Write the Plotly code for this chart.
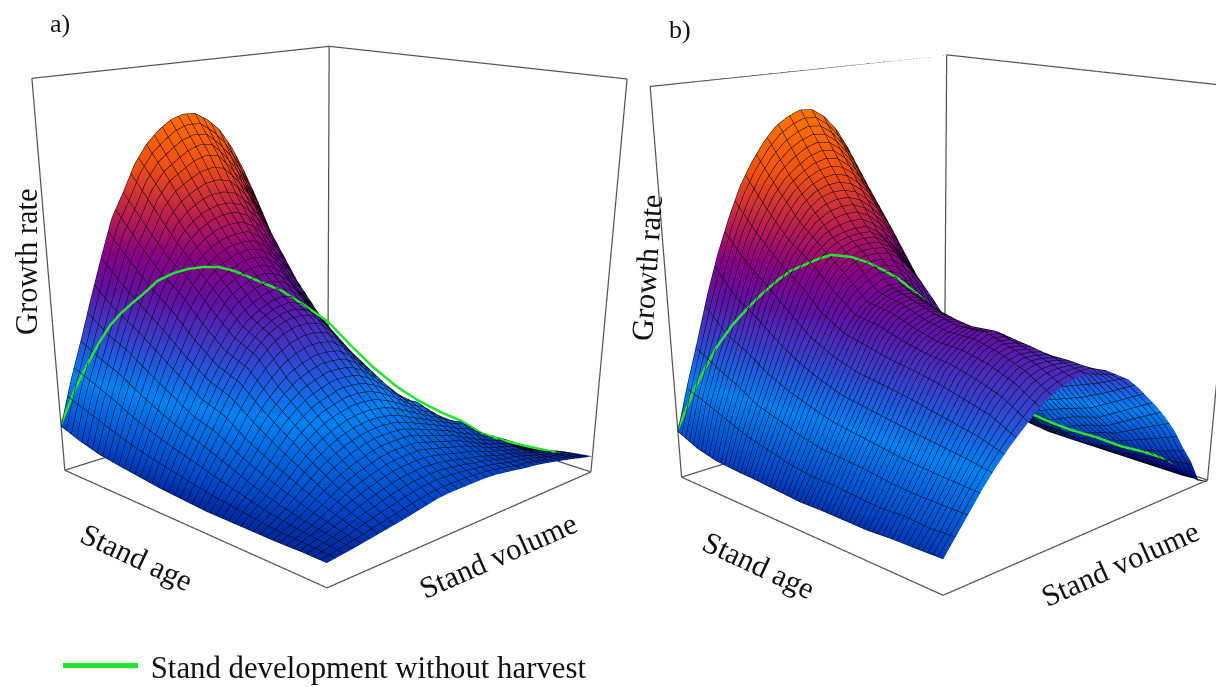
import plotly.graph_objects as go

FIG_W, FIG_H = 1216, 1195   # tall canvas: gives the weak perspective of the reference

age_levels = [0, 1/12, 2/12, 3/12, 4/12, 5/12, 6/12, 7/12, 8/12, 9/12, 10/12, 11/12, 1]
vol_levels = [0, 1/24, 2/24, 3/24, 4/24, 5/24, 6/24, 7/24, 8/24, 9/24, 10/24, 11/24, 12/24,
              13/24, 14/24, 15/24, 16/24, 17/24, 18/24, 19/24, 20/24, 21/24, 22/24, 23/24, 1]

growth_a = [
 [.125,.24,.34,.445,.545,.64,.70,.765,.81,.84,.862,.872,.87,.85,.82,.77,.705,.63,.55,.47,.40,.34,.28,.21,.15],
 [.105,.22,.31,.40,.49,.575,.63,.695,.735,.755,.775,.785,.78,.745,.70,.64,.56,.49,.42,.36,.30,.24,.19,.145,.10],
 [.09,.195,.285,.37,.445,.515,.565,.62,.65,.67,.68,.68,.67,.64,.60,.55,.48,.41,.34,.285,.24,.19,.145,.11,.08],
 [.082,.17,.25,.33,.40,.47,.52,.555,.58,.595,.60,.60,.58,.545,.505,.455,.39,.335,.28,.235,.19,.15,.115,.085,.055],
 [.075,.15,.22,.29,.35,.41,.46,.50,.52,.535,.54,.53,.505,.465,.425,.38,.32,.27,.225,.185,.15,.115,.08,.055,.03],
 [.068,.135,.195,.25,.31,.36,.405,.44,.46,.475,.48,.47,.445,.405,.365,.32,.27,.225,.185,.15,.12,.09,.06,.04,.018],
 [.064,.12,.175,.23,.285,.335,.375,.405,.425,.435,.435,.425,.395,.355,.315,.27,.225,.19,.155,.125,.10,.075,.05,.03,.012],
 [.06,.105,.15,.19,.24,.28,.31,.335,.35,.36,.36,.355,.335,.305,.275,.235,.19,.16,.135,.11,.09,.065,.045,.03,.012],
 [.06,.095,.125,.16,.20,.235,.26,.28,.29,.30,.30,.295,.28,.26,.235,.21,.195,.165,.13,.11,.09,.065,.045,.03,.014],
 [.06,.082,.105,.135,.165,.19,.21,.225,.235,.24,.24,.235,.225,.21,.195,.18,.165,.15,.14,.115,.09,.06,.045,.03,.016],
 [.06,.075,.09,.11,.13,.15,.165,.175,.185,.19,.19,.19,.18,.17,.16,.15,.135,.12,.105,.095,.085,.06,.045,.03,.02],
 [.062,.07,.08,.09,.105,.115,.125,.135,.142,.145,.147,.145,.14,.133,.125,.12,.11,.10,.095,.085,.075,.065,.057,.045,.035],
 [.062,.066,.07,.075,.08,.085,.09,.096,.102,.108,.11,.11,.11,.11,.108,.103,.098,.092,.088,.082,.075,.068,.06,.052,.045],
]

growth_b = [
 [.13,.25,.36,.475,.575,.66,.735,.79,.835,.87,.89,.903,.90,.878,.84,.785,.71,.63,.54,.44,.35,.27,.21,.15,.10],
 [.105,.23,.325,.41,.51,.60,.66,.715,.755,.78,.80,.81,.805,.78,.74,.69,.625,.55,.46,.38,.30,.23,.165,.11,.06],
 [.092,.205,.295,.38,.47,.545,.60,.645,.685,.71,.72,.72,.71,.685,.65,.60,.535,.47,.39,.32,.25,.18,.12,.07,.03],
 [.088,.18,.26,.34,.42,.495,.56,.60,.625,.635,.64,.64,.62,.59,.55,.50,.44,.38,.31,.25,.19,.13,.08,.04,.01],
 [.086,.165,.24,.31,.38,.44,.50,.55,.575,.59,.59,.585,.565,.525,.48,.43,.375,.31,.25,.19,.13,.09,.05,.025,.0],
 [.082,.15,.22,.29,.35,.41,.46,.495,.515,.53,.53,.51,.46,.415,.37,.32,.27,.225,.18,.135,.10,.065,.04,.015,-.005],
 [.078,.14,.205,.27,.33,.39,.45,.485,.505,.51,.50,.475,.445,.40,.355,.305,.25,.20,.155,.12,.085,.055,.03,.01,-.01],
 [.08,.14,.20,.26,.32,.38,.43,.465,.48,.49,.48,.46,.43,.38,.325,.27,.225,.18,.14,.105,.08,.05,.03,.01,-.01],
 [.08,.135,.195,.25,.31,.37,.42,.445,.465,.475,.47,.45,.42,.37,.31,.26,.215,.17,.135,.105,.08,.05,.03,.01,-.01],
 [.08,.13,.185,.24,.30,.355,.41,.44,.465,.48,.475,.455,.415,.375,.33,.275,.235,.20,.165,.13,.10,.065,.035,.01,-.01],
 [.085,.135,.18,.235,.29,.34,.39,.425,.45,.46,.455,.445,.42,.39,.35,.30,.26,.22,.185,.15,.12,.08,.05,.015,-.01],
 [.087,.13,.18,.23,.28,.325,.37,.40,.425,.435,.435,.43,.42,.395,.365,.33,.295,.26,.225,.19,.15,.10,.06,.02,-.01],
 [.09,.135,.18,.225,.265,.30,.33,.36,.385,.40,.41,.415,.415,.405,.385,.365,.335,.30,.265,.225,.18,.125,.075,.01,-.005],
]

path_a_t = [0,.034,.06,.083,.105,.125,.145,.167,.195,.225,.25,.277,.305,.333,.375,.417,.46,.5,.54,.583,.625,.667,.71,.75,.79,.833,.875,.917,.96]
path_a_z = [.13,.235,.30,.355,.40,.43,.455,.48,.515,.535,.545,.55,.55,.54,.515,.49,.45,.41,.35,.29,.24,.20,.168,.143,.108,.088,.073,.06,.043]
path_b_t = [0,.036,.06,.083,.115,.145,.167,.2,.225,.25,.275,.298,.333,.365,.393,.417,.456,.5,.54,.583,.625,.662,.7,.737,.785,.832,.875,.917,.966]
path_b_z = [.135,.245,.305,.36,.42,.465,.495,.535,.56,.575,.59,.60,.595,.58,.56,.54,.495,.425,.36,.30,.235,.185,.16,.14,.12,.095,.08,.06,.025]

box_x = [0,1,1,0,0,0,0,1,1,None,0,0]
box_y = [0,0,1,1,0,0,1,1,1,None,1,1]
box_z = [0,0,0,0,0,1,1,1,0,None,0,1]

series_name = "\u00a0Stand development without harvest"
axis_age, axis_vol, axis_growth = "Stand age", "Stand volume", "Growth rate"
panel_labels = ["a)", "b)"]

colors = [
 [0.00,"rgb(0,0,120)"],[0.06,"rgb(0,35,150)"],[0.12,"rgb(0,70,200)"],[0.28,"rgb(0,130,245)"],
 [0.40,"rgb(50,70,210)"],[0.52,"rgb(95,20,165)"],[0.62,"rgb(135,0,135)"],[0.72,"rgb(185,30,80)"],
 [0.85,"rgb(240,80,20)"],[1.00,"rgb(255,115,0)"],
]
GREEN = "#22e62c"
LINE = "#555555"
fig = go.Figure()

def add_panel(scene, growth, t, z, nx, ny, legend):
    by_volume = [list(col) for col in zip(*growth)]
    fig.add_trace(go.Surface(
        x=age_levels, y=vol_levels, z=by_volume, scene=scene, showscale=False,
        colorscale=colors, cmin=0, cmax=.9, hoverinfo="skip",
        lighting=dict(ambient=1, diffuse=0, specular=0, roughness=1, fresnel=0),
        contours=dict(
            x=dict(show=True, start=0, end=1, size=1/nx, color="#000000", width=1),
            y=dict(show=True, start=0, end=1, size=1/ny, color="#000000", width=1),
            z=dict(show=False)),
    ))
    fig.add_trace(go.Scatter3d(x=box_x, y=box_y, z=box_z, mode="lines", scene=scene,
        line=dict(color=LINE, width=2.5), showlegend=False, hoverinfo="skip"))
    fig.add_trace(go.Scatter3d(x=t, y=t, z=z, mode="lines", scene=scene, name=series_name,
        line=dict(color=GREEN, width=5), showlegend=legend, hoverinfo="skip"))

add_panel("scene", growth_a, path_a_t, path_a_z, 45, 36, True)
add_panel("scene2", growth_b, path_b_t, path_b_z, 60, 26, False)

def scene_layout(dom, eye, center):
    ax = dict(visible=False, range=[0,1], showgrid=False, zeroline=False, showbackground=False)
    return dict(domain=dict(x=dom, y=[0,1]), xaxis=ax, yaxis=ax, zaxis=dict(visible=False, range=[-.02,1]),
                aspectmode="manual", aspectratio=dict(x=1,y=1,z=1.02),
                bgcolor="rgba(0,0,0,0)",
                camera=dict(eye=eye, center=center, up=dict(x=0,y=0,z=1),
                            projection=dict(type="perspective")))

def txt(s, px, py, size, angle=0):
    return dict(text=s, x=px/FIG_W, y=1-py/FIG_H, xref="paper", yref="paper", showarrow=False,
                font=dict(family="Liberation Serif", size=size, color="#111"), textangle=angle,
                xanchor="center", yanchor="middle")

fig.update_layout(
    width=FIG_W, height=FIG_H, margin=dict(l=0,r=0,t=0,b=0), paper_bgcolor="white",
    scene=scene_layout([0,.52], dict(x=2.557,y=-2.557,z=.951), dict(x=.081,y=-.123,z=-.798)),
    scene2=scene_layout([.52,1], dict(x=2.557,y=-2.557,z=.951), dict(x=.0596,y=-.1324,z=-.78)),
    legend=dict(x=58/FIG_W, y=1-666/FIG_H, xanchor="left", yanchor="middle", itemwidth=75,
                font=dict(family="Liberation Serif", size=30.8, color="#111"), bgcolor="rgba(0,0,0,0)"),
    annotations=[
        txt(panel_labels[0], 60, 24, 26), txt(panel_labels[1], 680, 30, 26),
        txt(axis_growth, 27, 262, 30.5, -90), txt(axis_growth, 647, 268, 30.5, -86),
        txt(axis_age, 136, 557, 30.5, 25), txt(axis_vol, 498, 556, 30.5, -24),
        txt(axis_age, 758, 565, 30.5, 25), txt(axis_vol, 1120, 564, 30.5, -24),
    ],
)
fig.write_html("out.html", config=dict(displayModeBar=False),
               post_script="document.body.style.margin='0';document.body.style.overflow='hidden';document.documentElement.style.overflow='hidden';")
